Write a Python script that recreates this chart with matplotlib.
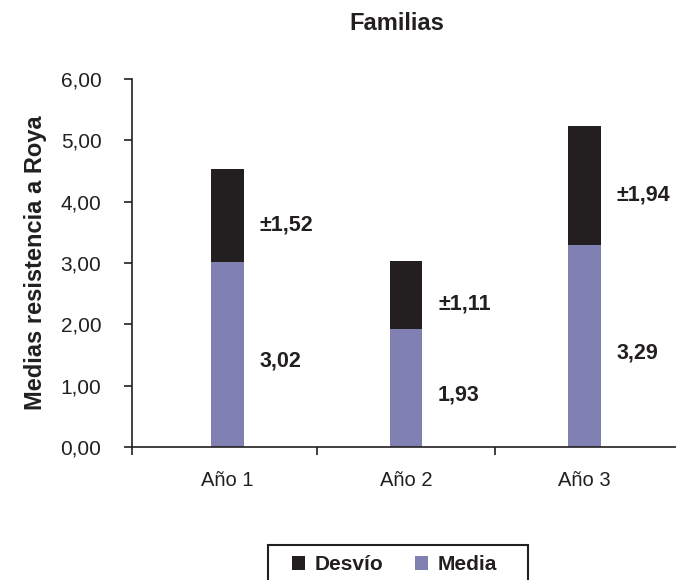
import matplotlib.pyplot as plt
from matplotlib.patches import Rectangle
import numpy as np

plt.rcParams['font.family'] = ['Liberation Sans', 'DejaVu Sans']

# Data
categorias = ['Año 1', 'Año 2', 'Año 3']
medias = [3.02, 1.93, 3.29]
desvios = [1.52, 1.11, 1.94]

TEXT = '#231f20'
COL_MEDIA = '#8080b3'
COL_DESVIO = '#231f20'

W, H = 676, 580
fig = plt.figure(figsize=(W / 100, H / 100), dpi=100)
ax = fig.add_axes([132 / W, 133 / H, 544 / W, 368 / H])

x = np.arange(len(categorias))
ancho = 0.18

ax.bar(x, medias, width=ancho, color=COL_MEDIA, label='Media', zorder=2)
ax.bar(x, desvios, width=ancho, bottom=medias, color=COL_DESVIO, label='Desvío', zorder=2)

# Value labels next to each stacked segment
for i in range(len(categorias)):
    m = medias[i]
    d = desvios[i]
    ax.annotate('{:.2f}'.format(m).replace('.', ','), (x[i] + 0.18, m / 2),
                xytext=(0, -5), textcoords='offset points',
                ha='left', va='center', fontsize=15.5, fontweight='bold', color=TEXT)
    ax.annotate('±{:.2f}'.format(d).replace('.', ','), (x[i] + 0.18, m + d / 2),
                xytext=(0, -7), textcoords='offset points',
                ha='left', va='center', fontsize=15.5, fontweight='bold', color=TEXT)

# Axes
xmin, xmax = -0.535, 2.513
ax.set_xlim(xmin, xmax)
ax.set_ylim(0, 6)
ax.set_yticks(np.arange(0, 7, 1))
ax.set_yticklabels(['{:.2f}'.format(v).replace('.', ',') for v in range(7)])
ax.set_xticks([xmin, 0.5, 1.5])
ax.set_xticklabels([])
ax.set_xticks(x, minor=True)
ax.set_xticklabels(categorias, minor=True)
ax.tick_params(axis='x', which='minor', length=0, pad=17, labelsize=14.5, labelcolor=TEXT)
ax.tick_params(axis='x', which='major', direction='out', length=6, width=1.2, color=TEXT)
ax.tick_params(axis='y', direction='out', length=6, width=1.2, color=TEXT,
               labelsize=15, labelcolor=TEXT, pad=16)

for s in ['top', 'right']:
    ax.spines[s].set_visible(False)
for s in ['left', 'bottom']:
    ax.spines[s].set_color(TEXT)
    ax.spines[s].set_linewidth(1.2)

ax.set_ylabel('Medias resistencia a Roya', fontsize=17, fontweight='bold',
              color=TEXT, labelpad=10)

fig.text(396.5 / W, 1 - 23 / H, 'Familias', ha='center', va='center',
         fontsize=17, fontweight='bold', color=TEXT)

# Legend at the bottom, its box runs past the lower edge of the figure
handles, labels = ax.get_legend_handles_labels()
leg = fig.legend(handles[::-1], labels[::-1], ncol=2, loc='center left',
                 bbox_to_anchor=(292 / W, 1 - 565 / H), frameon=False,
                 prop={'weight': 'bold', 'size': 15}, handlelength=0.625,
                 handleheight=0.625, handletextpad=0.48, columnspacing=1.5,
                 borderpad=0, borderaxespad=0)
for t in leg.get_texts():
    t.set_color(TEXT)
fig.patches.append(Rectangle((268 / W, -0.05), 260 / W, 0.05 + 35 / H,
                             transform=fig.transFigure, fill=False,
                             edgecolor=TEXT, linewidth=1.5))

fig.savefig('out.png', dpi=100)
